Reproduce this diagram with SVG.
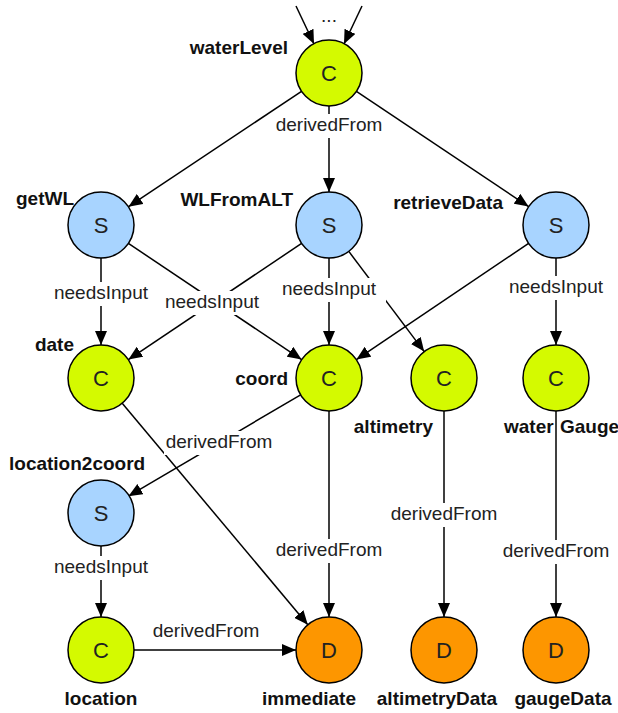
<svg xmlns="http://www.w3.org/2000/svg" width="618" height="713" viewBox="0 0 618 713">
<style>
.edge{stroke:#000;stroke-width:1.5;fill:none;marker-end:url(#ah)}
.lbg{fill:#fff}
.el{font-family:"Liberation Sans",Arial,sans-serif;font-size:19px;fill:#222;text-anchor:middle}
.nl{font-family:"Liberation Sans",Arial,sans-serif;font-size:19px;font-weight:bold;fill:#111}
.ci{stroke:#000;stroke-width:1.5}
.C{fill:#d4fa00}.S{fill:#a8d4ff}.D{fill:#fd9600}
.gl{font-family:"Liberation Sans",Arial,sans-serif;font-size:22px;fill:#222;text-anchor:middle}
</style>
<defs>
<marker id="ah" markerWidth="14" markerHeight="12" refX="14" refY="6" orient="auto" markerUnits="userSpaceOnUse"><path d="M0,0 L14,6 L0,12 z" fill="#000"/></marker>
</defs>
<rect width="618" height="713" fill="#fff"/>
<g id="connectors">
<line class="edge" x1="296" y1="6" x2="314" y2="44"/>
<line class="edge" x1="362" y1="6" x2="344" y2="44"/>
<text class="el" x="329" y="22">...</text>
<line class="edge" x1="301.5" y1="91.3" x2="128.5" y2="206.7"/>
<line class="edge" x1="356.4" y1="91.4" x2="528.6" y2="206.6"/>
<line class="edge" x1="329" y1="106" x2="329" y2="192"/>
<line class="edge" x1="101" y1="258" x2="101" y2="345"/>
<line class="edge" x1="128.4" y1="243.4" x2="301.6" y2="359.6"/>
<line class="edge" x1="301.6" y1="243.4" x2="128.4" y2="359.6"/>
<line class="edge" x1="329" y1="258" x2="329" y2="345"/>
<line class="edge" x1="348.8" y1="251.4" x2="424.2" y2="351.6"/>
<line class="edge" x1="528.6" y1="243.4" x2="356.4" y2="359.6"/>
<line class="edge" x1="556" y1="258" x2="556" y2="345"/>
<line class="edge" x1="122.2" y1="403.3" x2="307.8" y2="624.7"/>
<line class="edge" x1="300.6" y1="394.8" x2="128.4" y2="496.2"/>
<line class="edge" x1="329" y1="411" x2="329" y2="617"/>
<line class="edge" x1="444" y1="411" x2="444" y2="617"/>
<line class="edge" x1="556" y1="411" x2="556" y2="617"/>
<line class="edge" x1="101" y1="546" x2="101" y2="617"/>
<line class="edge" x1="134" y1="650" x2="296" y2="650"/>
<rect class="lbg" x="274" y="114" width="110" height="24"/><text class="el" x="329" y="131">derivedFrom</text>
<rect class="lbg" x="52" y="282" width="98" height="24"/><text class="el" x="101" y="299">needsInput</text>
<rect class="lbg" x="162" y="291" width="100" height="24"/><text class="el" x="212" y="308">needsInput</text>
<rect class="lbg" x="272" y="278" width="114" height="24"/><text class="el" x="329" y="295">needsInput</text>
<rect class="lbg" x="507" y="276" width="98" height="24"/><text class="el" x="556" y="293">needsInput</text>
<rect class="lbg" x="164" y="431" width="110" height="24"/><text class="el" x="219" y="448">derivedFrom</text>
<rect class="lbg" x="52" y="556" width="98" height="24"/><text class="el" x="101" y="573">needsInput</text>
<text class="el" x="206" y="637">derivedFrom</text>
<rect class="lbg" x="274" y="539" width="110" height="24"/><text class="el" x="329" y="556">derivedFrom</text>
<rect class="lbg" x="389" y="503" width="110" height="24"/><text class="el" x="444" y="520">derivedFrom</text>
<rect class="lbg" x="501" y="540" width="110" height="24"/><text class="el" x="556" y="557">derivedFrom</text>
</g>
<g id="waterLevel"><circle class="ci C" cx="329" cy="73" r="33"/><text class="gl" x="329" y="81">C</text><text class="nl" x="288" y="54" text-anchor="end">waterLevel</text></g>
<g id="getWL"><circle class="ci S" cx="101" cy="225" r="33"/><text class="gl" x="101" y="233">S</text><text class="nl" x="74" y="205" text-anchor="end">getWL</text></g>
<g id="WLFromALT"><circle class="ci S" cx="329" cy="225" r="33"/><text class="gl" x="329" y="233">S</text><text class="nl" x="293" y="206" text-anchor="end">WLFromALT</text></g>
<g id="retrieveData"><circle class="ci S" cx="556" cy="225" r="33"/><text class="gl" x="556" y="233">S</text><text class="nl" x="503" y="209" text-anchor="end">retrieveData</text></g>
<g id="date"><circle class="ci C" cx="101" cy="378" r="33"/><text class="gl" x="101" y="386">C</text><text class="nl" x="74" y="351" text-anchor="end">date</text></g>
<g id="coord"><circle class="ci C" cx="329" cy="378" r="33"/><text class="gl" x="329" y="386">C</text><text class="nl" x="288" y="385" text-anchor="end">coord</text></g>
<g id="altimetry"><circle class="ci C" cx="444" cy="378" r="33"/><text class="gl" x="444" y="386">C</text><text class="nl" x="433" y="433" text-anchor="end">altimetry</text></g>
<g id="waterGauge"><circle class="ci C" cx="556" cy="378" r="33"/><text class="gl" x="556" y="386">C</text><text class="nl" x="504" y="433">water</text><text class="nl" x="560" y="433">Gauge</text></g>
<g id="location2coord"><circle class="ci S" cx="101" cy="513" r="33"/><text class="gl" x="101" y="521">S</text><text class="nl" x="9" y="470">location2coord</text></g>
<g id="location"><circle class="ci C" cx="101" cy="650" r="33"/><text class="gl" x="101" y="658">C</text><text class="nl" x="101" y="705" text-anchor="middle">location</text></g>
<g id="immediate"><circle class="ci D" cx="329" cy="650" r="33"/><text class="gl" x="329" y="658">D</text><text class="nl" x="309" y="705" text-anchor="middle">immediate</text></g>
<g id="altimetryData"><circle class="ci D" cx="444" cy="650" r="33"/><text class="gl" x="444" y="658">D</text><text class="nl" x="437" y="705" text-anchor="middle">altimetryData</text></g>
<g id="gaugeData"><circle class="ci D" cx="556" cy="650" r="33"/><text class="gl" x="556" y="658">D</text><text class="nl" x="563" y="705" text-anchor="middle">gaugeData</text></g>
</svg>
